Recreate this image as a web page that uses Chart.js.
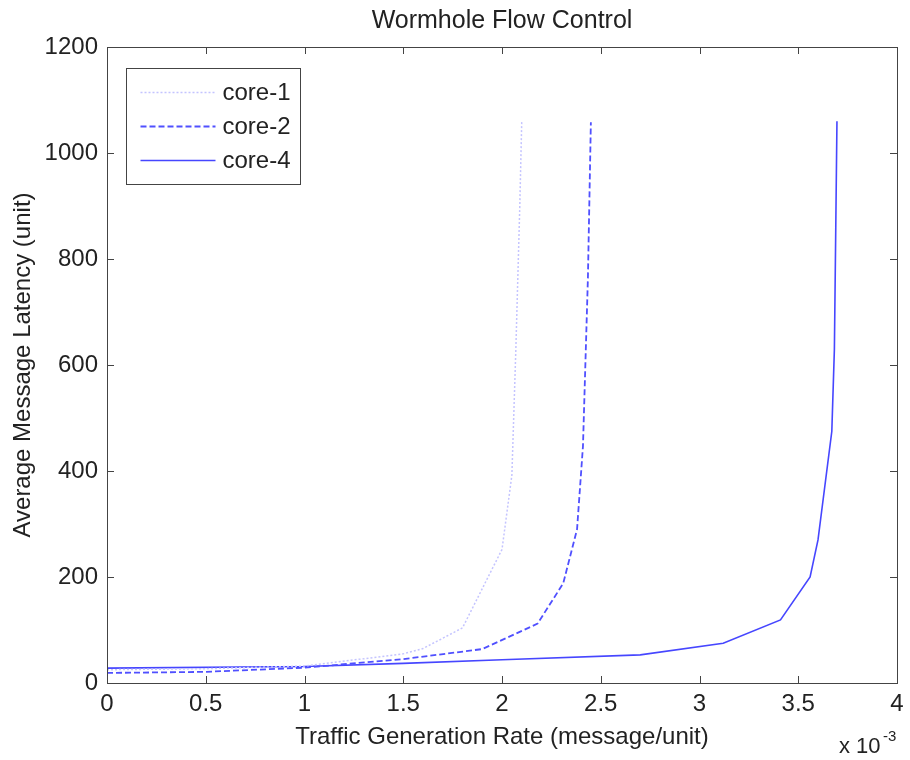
<!DOCTYPE html>
<html>
<head>
<meta charset="utf-8">
<script src="https://cdn.jsdelivr.net/npm/chart.js@4/dist/chart.umd.min.js"></script>
<style>
    body { margin: 0; background: #fff; }
    canvas { display: block; }
</style>
</head>
<body>
<canvas id="chart" width="910" height="760"></canvas>
<script>
const FONT_FAMILY = "'Liberation Sans', Arial, Helvetica, sans-serif";
const TEXT_COLOR = "#222";
const AXIS_COLOR = "#444";

const CHART_TITLE = "Wormhole Flow Control";
const X_TITLE = "Traffic Generation Rate (message/unit)";
const Y_TITLE = "Average Message Latency (unit)";

// x values are in units of 1e-3 (message/unit)
const core1X = [0, 0.5, 1.0, 1.5, 1.6, 1.8, 2.0, 2.05, 2.07, 2.09, 2.1];
const core1Y = [25, 27, 32, 55, 65, 104, 252, 392, 628, 898, 1060];

const core2X = [0, 0.5, 1.0, 1.5, 1.9, 2.18, 2.31, 2.38, 2.41, 2.435, 2.45];
const core2Y = [19, 21, 29, 45, 64, 112, 188, 290, 447, 764, 1058];

const core4X = [0, 1.0, 1.5, 2.0, 2.7, 3.12, 3.41, 3.56, 3.6, 3.67, 3.683, 3.69, 3.696];
const core4Y = [28, 31, 37, 44, 53, 75, 119, 200, 270, 475, 630, 860, 1060];

const seriesNames = ["core-1", "core-2", "core-4"];
const seriesColors = ["#c4c4ff", "#5050ff", "#4646ff"];
const seriesDashes = [[2, 2], [6, 3], []];
const seriesWidths = [1.5, 1.8, 1.6];

const toPoints = (xs, ys) => xs.map((x, i) => ({ x: x, y: ys[i] }));

const makeDataset = (index, xs, ys) => ({
    label: seriesNames[index],
    data: toPoints(xs, ys),
    borderColor: seriesColors[index],
    backgroundColor: seriesColors[index],
    borderWidth: seriesWidths[index],
    borderDash: seriesDashes[index],
    pointRadius: 0,
    showLine: true,
    tension: 0
});

// box, inward ticks on all four sides, title, legend and exponent label
const matlabFrame = {
    id: "matlabFrame",
    afterDraw: (chart) => {
        const ctx = chart.ctx;
        const area = chart.chartArea;
        const xScale = chart.scales.x;
        const yScale = chart.scales.y;
        const tickLen = 7;

        ctx.save();
        ctx.strokeStyle = AXIS_COLOR;
        ctx.lineWidth = 1;
        ctx.strokeRect(area.left + 0.5, area.top + 0.5, area.right - area.left, area.bottom - area.top);

        ctx.beginPath();
        xScale.ticks.forEach((t) => {
            const px = Math.round(xScale.getPixelForValue(t.value)) + 0.5;
            ctx.moveTo(px, area.bottom);
            ctx.lineTo(px, area.bottom - tickLen);
            ctx.moveTo(px, area.top);
            ctx.lineTo(px, area.top + tickLen);
        });
        yScale.ticks.forEach((t) => {
            const py = Math.round(yScale.getPixelForValue(t.value)) + 0.5;
            ctx.moveTo(area.left, py);
            ctx.lineTo(area.left + tickLen, py);
            ctx.moveTo(area.right, py);
            ctx.lineTo(area.right - tickLen, py);
        });
        ctx.stroke();

        // title centred over the axes
        ctx.fillStyle = TEXT_COLOR;
        ctx.font = "25px " + FONT_FAMILY;
        ctx.textAlign = "center";
        ctx.textBaseline = "middle";
        ctx.fillText(CHART_TITLE, (area.left + area.right) / 2, 21);

        // exponent label
        ctx.textAlign = "left";
        ctx.textBaseline = "alphabetic";
        ctx.font = "22px " + FONT_FAMILY;
        ctx.fillText("x 10", 839, 753);
        ctx.font = "15px " + FONT_FAMILY;
        ctx.fillText("-3", 883, 741);

        // legend
        const boxX = area.left + 19.5;
        const boxY = area.top + 21.5;
        ctx.fillStyle = "#fff";
        ctx.fillRect(boxX, boxY, 174, 116);
        ctx.strokeStyle = AXIS_COLOR;
        ctx.strokeRect(boxX, boxY, 174, 116);
        ctx.font = "24px " + FONT_FAMILY;
        ctx.textBaseline = "middle";
        chart.data.datasets.forEach((ds, i) => {
            const rowY = boxY + 24 + i * 34;
            ctx.strokeStyle = ds.borderColor;
            ctx.lineWidth = ds.borderWidth;
            ctx.setLineDash(ds.borderDash);
            ctx.beginPath();
            ctx.moveTo(boxX + 14, rowY);
            ctx.lineTo(boxX + 89, rowY);
            ctx.stroke();
            ctx.setLineDash([]);
            ctx.fillStyle = TEXT_COLOR;
            ctx.fillText(ds.label, boxX + 96, rowY + 1);
        });
        ctx.restore();
    }
};

new Chart(document.getElementById("chart").getContext("2d"), {
    type: "scatter",
    data: {
        datasets: [
            makeDataset(0, core1X, core1Y),
            makeDataset(1, core2X, core2Y),
            makeDataset(2, core4X, core4Y)
        ]
    },
    options: {
        responsive: false,
        animation: false,
        layout: { padding: { top: 47, right: 13, left: 0, bottom: 0 } },
        plugins: {
            legend: { display: false },
            tooltip: { enabled: false },
            title: { display: false }
        },
        scales: {
            x: {
                type: "linear",
                min: 0,
                max: 4,
                ticks: {
                    stepSize: 0.5,
                    padding: 7,
                    color: TEXT_COLOR,
                    font: { family: FONT_FAMILY, size: 24 },
                    maxRotation: 0,
                    callback: (value) => String(value)
                },
                grid: { display: false, drawTicks: false },
                border: { display: false },
                title: {
                    display: true,
                    text: X_TITLE,
                    color: TEXT_COLOR,
                    font: { family: FONT_FAMILY, size: 24 },
                    padding: { top: 0, bottom: 8 }
                },
                afterFit: (scale) => {
                    scale.height = 77;
                    scale.paddingLeft = 0;
                    scale.paddingRight = 0;
                }
            },
            y: {
                type: "linear",
                min: 0,
                max: 1200,
                ticks: {
                    stepSize: 200,
                    padding: 9,
                    color: TEXT_COLOR,
                    font: { family: FONT_FAMILY, size: 24 },
                    callback: (value) => String(value)
                },
                grid: { display: false, drawTicks: false },
                border: { display: false },
                title: {
                    display: true,
                    text: Y_TITLE,
                    color: TEXT_COLOR,
                    font: { family: FONT_FAMILY, size: 24 },
                    padding: { top: 9, bottom: 0 }
                },
                afterFit: (scale) => {
                    scale.width = 107;
                    scale.paddingTop = 0;
                    scale.paddingBottom = 0;
                }
            }
        }
    },
    plugins: [matlabFrame]
});
</script>
</body>
</html>
